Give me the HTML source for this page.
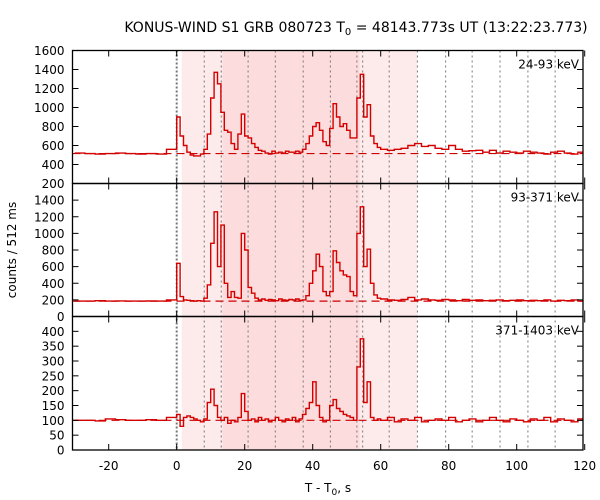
<!DOCTYPE html>
<html><head><meta charset="utf-8"><style>
body{margin:0;background:#fff}
svg{display:block;font-family:"DejaVu Sans","Liberation Sans",sans-serif}
</style></head><body>
<svg id="chart" width="600" height="500" viewBox="0 0 600 500">
<text x="356" y="32" font-size="14" text-anchor="middle">KONUS-WIND S1 GRB 080723 T<tspan font-size="10" dy="3">0</tspan><tspan dy="-3"> = 48143.773s UT (13:22:23.773)</tspan></text>
<text transform="translate(16,250) rotate(-90)" font-size="12" text-anchor="middle">counts / 512 ms</text>
<text x="328" y="492" font-size="12" text-anchor="middle">T - T<tspan font-size="9" dy="3">0</tspan><tspan dy="-3">, s</tspan></text>
<g id="plot"></g>
</svg>
<script>
const times=[-30,-27,-24,-21,-18,-15,-12,-9,-6,-3,
0,1,2,3,4,5,6,7,8,9,10,11,12,13,14,15,16,17,18,19,20,21,22,23,24,25,26,27,28,29,30,31,32,33,34,35,36,37,38,39,40,41,42,43,44,45,46,47,48,49,50,51,52,53,54,55,56,57,58,59,
60,62,64,66,68,70,72,74,76,78,80,82,84,86,88,90,92,94,96,98,100,102,104,106,108,110,112,114,116,118];
const band1=[520,515,510,515,520,515,510,515,510,560,
900,700,600,530,500,490,490,510,560,720,1100,1370,1250,950,760,740,620,560,720,930,700,680,620,580,550,540,520,510,540,520,530,520,540,530,530,540,530,560,620,700,800,840,760,640,600,780,1040,900,800,830,760,680,680,1100,1350,900,1030,700,620,580,
560,550,560,570,600,620,590,600,570,560,600,560,540,545,550,530,550,520,540,530,520,540,530,520,510,530,540,520,510,530];
const band2=[185,185,190,185,188,185,185,186,185,200,
640,240,200,195,190,185,190,185,220,380,880,1260,600,1100,400,230,300,230,220,1000,800,350,280,220,200,210,195,205,200,190,210,200,195,205,200,210,195,200,250,400,550,750,600,300,250,300,790,650,550,500,480,300,250,1000,1320,600,810,400,260,220,
210,200,195,205,230,200,210,200,195,205,200,190,205,195,200,190,195,200,190,195,200,190,195,190,200,185,195,190,200,185];
const band3=[100,100,98,105,102,100,100,102,100,110,
120,80,110,115,110,105,100,95,105,160,205,150,110,100,110,90,100,95,110,190,130,100,105,95,110,100,105,95,100,110,100,95,105,100,110,95,105,120,140,160,230,150,110,95,100,150,170,140,130,120,115,110,100,280,375,160,230,110,100,105,
100,110,95,105,100,110,95,100,105,100,110,95,100,105,95,100,110,100,95,105,100,95,105,100,110,95,105,100,95,105];
const panelTicks1=[200,400,600,800,1000,1200,1400,1600];
const panelTicks2=[0,200,400,600,800,1000,1200,1400];
const panelTicks3=[0,50,100,150,200,250,300,350,400];
const xTicks=[-20,0,20,40,60,80,100,120];
const dotLines=[8.1,13.1,21,29,37.2,45.2,53,54.7,62.5,70.8,79.1,86.9,95.1,103.3,111.3,119.5];
const panelBkg=[515,185,100];
const labels=["24-93 keV","93-371 keV","371-1403 keV"];

const NS="http://www.w3.org/2000/svg";
const L=72.5,R=583;
const X=t=>176.7+t*3.4;
const panels=[
 {top:50.5,bot:183.5,min:200,max:1600,ticks:panelTicks1,data:band1,label:labels[0],bk:panelBkg[0]},
 {top:183.5,bot:316.5,min:0,max:1600,ticks:panelTicks2,data:band2,label:labels[1],bk:panelBkg[1]},
 {top:316.5,bot:450,min:0,max:450,ticks:panelTicks3,data:band3,label:labels[2],bk:panelBkg[2]}];
const g=document.getElementById('plot');
function el(tag,attrs,parent){const e=document.createElementNS(NS,tag);for(const k in attrs)e.setAttribute(k,attrs[k]);(parent||g).appendChild(e);return e;}

let s1=el('rect',{x:X(1.5),y:50.5,width:X(70.7)-X(1.5),height:399.5,fill:'#fdeaea'});


let s2=el('rect',{x:X(13.5),y:50.5,width:X(53.8)-X(13.5),height:399.5,fill:'#fcdcdc'});


for(const t of dotLines){const d=el('line',{x1:X(t),x2:X(t),y1:50.5,y2:450,stroke:'#777','stroke-width':1,'stroke-dasharray':'2,3'});

}
const z=el('line',{x1:X(0),x2:X(0),y1:50.5,y2:450,stroke:'#777','stroke-width':2,'stroke-dasharray':'2,2'});



panels.forEach((p,i)=>{
 const Y=v=>p.bot-(v-p.min)/(p.max-p.min)*(p.bot-p.top);
 const bl=el('line',{x1:L,x2:R,y1:Y(p.bk),y2:Y(p.bk),stroke:'#c00','stroke-width':1.2,'stroke-dasharray':'8,5'});
 
 
 let d='';
 for(let k=0;k<p.data.length;k++){
  const x0=Math.max(L,X(times[k]));const x1=k+1<times.length?X(times[k+1]):R;
  const y=Y(p.data[k]);
  d+=(k===0?'M':'L')+x0.toFixed(1)+','+y.toFixed(1)+'L'+Math.min(R,x1).toFixed(1)+','+y.toFixed(1);
 }
 const ln=el('path',{d:d,fill:'none',stroke:'#d40000','stroke-width':1.4});
 
 
 const fr=el('rect',{x:L,y:p.top,width:R-L,height:p.bot-p.top,fill:'none',stroke:'#000','stroke-width':1.3});
 
 
 p.ticks.forEach(v=>{
  const y=Y(v);
  el('line',{x1:L,x2:L+6,y1:y,y2:y,stroke:'#000'});
  el('line',{x1:R,x2:R-6,y1:y,y2:y,stroke:'#000'});
  const tl=el('text',{x:L-8,y:y+4.5,'font-size':12,'text-anchor':'end'});
  tl.textContent=v;
  
  
 });
 xTicks.forEach(t=>{
  const x=X(t);
  el('line',{x1:x,x2:x,y1:p.top,y2:p.top+6,stroke:'#000'});
  el('line',{x1:x,x2:x,y1:p.bot,y2:p.bot-6,stroke:'#000'});
 });
 const lb=el('text',{x:579,y:p.top+18,'font-size':12,'text-anchor':'end'});
 lb.textContent=p.label;
 
 
});
xTicks.forEach(t=>{
 const tl=el('text',{x:X(t),y:470,'font-size':12,'text-anchor':'middle'});
 tl.textContent=t;
 
 
});
</script>
</body></html>
